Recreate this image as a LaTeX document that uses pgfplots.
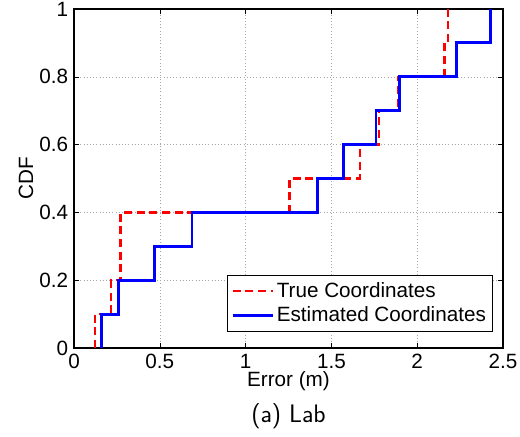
\documentclass[border=0pt]{standalone}
\usepackage{fontspec}
\setmainfont{Liberation Sans}
\usepackage{pgfplots}
\pgfplotsset{compat=1.18}
\begin{document}
\fontsize{15.5pt}{18pt}\selectfont
\begin{tikzpicture}
\begin{axis}[name=ax, scale only axis, width=321.75pt, height=254.25pt,
  xmin=0, xmax=2.5, ymin=0, ymax=1,
  xtick={0,0.5,...,2.5}, ytick={0,0.2,...,1},
  xticklabels={0,0.5,1,1.5,2,2.5}, yticklabels={0,0.2,0.4,0.6,0.8,1},
  tick align=inside, major tick length=4pt,
  tick style={black, thin},
  grid=major, major grid style={gray!70, dotted, thin},
  axis line style={black, line width=0.8pt},
  xlabel={Error (m)}, ylabel={CDF},
  xlabel style={yshift=8pt}, ylabel style={yshift=-6pt},
  xticklabel style={yshift=1pt}, yticklabel style={xshift=1pt},
  /pgf/number format/assume math mode=true,
  legend cell align=left,
  legend style={at={(1,0)}, anchor=south east, xshift=-7.5pt, yshift=12pt,
    draw=black, line width=0.6pt, inner xsep=3pt, inner ysep=3pt, row sep=1pt,
    font=\fontsize{15.5pt}{18pt}\selectfont},
  legend image code/.code={\draw[#1, sharp plot] (0pt,0pt) -- (30pt,0pt);}]
\addplot[const plot, red, line width=1.8pt, dash pattern=on 6pt off 3.5pt] coordinates {
  (0.122,0) (0.122,0.1) (0.216,0.2) (0.272,0.4) (1.255,0.5) (1.667,0.6)
  (1.777,0.7) (1.890,0.8) (2.158,0.9) (2.178,1.0) (2.178,1.0)};
\addlegendentry{True Coordinates}
\addplot[const plot, blue, line width=2.1pt] coordinates {
  (0.159,0) (0.159,0.1) (0.258,0.2) (0.468,0.3) (0.688,0.4) (1.418,0.5)
  (1.569,0.6) (1.760,0.7) (1.896,0.8) (2.230,0.9) (2.426,1.0) (2.426,1.0)};
\addlegendentry{Estimated Coordinates}
\end{axis}
\node[anchor=base, font=\sffamily\fontsize{19pt}{22pt}\selectfont] at ([yshift=-56pt]ax.south) {(a) Lab};
\pgfresetboundingbox
\path ([shift={(-55.5pt,-66pt)}]ax.south west) rectangle ([shift={(12.75pt,6.75pt)}]ax.north east);
\end{tikzpicture}
\end{document}
